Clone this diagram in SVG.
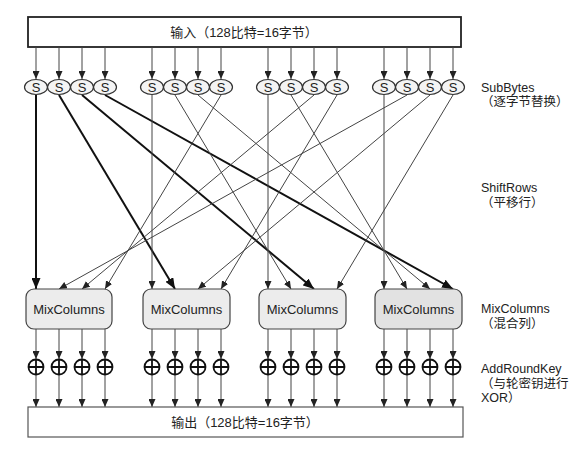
<svg xmlns="http://www.w3.org/2000/svg" width="584" height="451" viewBox="0 0 584 451">
<style>
  .txt { font-family: "Liberation Sans", "Noto Sans CJK SC", sans-serif; font-size: 13px; fill: #222; }
  .lbl { font-family: "Liberation Sans", "Noto Sans CJK SC", sans-serif; font-size: 12.5px; fill: #222; }
  .thin { stroke: #444; stroke-width: 1; fill: none; marker-end: url(#ah); }
  .thick { stroke: #111; stroke-width: 2; fill: none; marker-end: url(#ahb); }
  .sbox { fill: #f4f4f4; stroke: #333; stroke-width: 1.2; }
  .mix { fill: #ececec; stroke: #444; stroke-width: 1.2; }
  .xor { fill: #fff; stroke: #111; stroke-width: 1.8; }
</style>
<defs>
  <marker id="ah" markerUnits="userSpaceOnUse" markerWidth="8" markerHeight="7" refX="8" refY="3.5" orient="auto">
    <path d="M0,0 L8,3.5 L0,7 z" fill="#222"/>
  </marker>
  <marker id="ahb" markerUnits="userSpaceOnUse" markerWidth="11" markerHeight="9" refX="11" refY="4.5" orient="auto">
    <path d="M0,0 L11,4.5 L0,9 z" fill="#111"/>
  </marker>
</defs>
<rect width="584" height="451" fill="#fff"/>

<g id="input">
  <rect x="28" y="17" width="433" height="30" fill="#fff" stroke="#222" stroke-width="1.8"/>
  <text class="txt" x="244" y="37" text-anchor="middle">输入（128比特=16字节）</text>
</g>

<g id="connectors">
  <!-- input to S -->
  <line class="thin" x1="36" y1="47" x2="36" y2="79"/>
  <line class="thin" x1="59" y1="47" x2="59" y2="79"/>
  <line class="thin" x1="82" y1="47" x2="82" y2="79"/>
  <line class="thin" x1="105" y1="47" x2="105" y2="79"/>
  <line class="thin" x1="152" y1="47" x2="152" y2="79"/>
  <line class="thin" x1="175" y1="47" x2="175" y2="79"/>
  <line class="thin" x1="198" y1="47" x2="198" y2="79"/>
  <line class="thin" x1="221" y1="47" x2="221" y2="79"/>
  <line class="thin" x1="268" y1="47" x2="268" y2="79"/>
  <line class="thin" x1="291" y1="47" x2="291" y2="79"/>
  <line class="thin" x1="314" y1="47" x2="314" y2="79"/>
  <line class="thin" x1="337" y1="47" x2="337" y2="79"/>
  <line class="thin" x1="384" y1="47" x2="384" y2="79"/>
  <line class="thin" x1="407" y1="47" x2="407" y2="79"/>
  <line class="thin" x1="430" y1="47" x2="430" y2="79"/>
  <line class="thin" x1="453" y1="47" x2="453" y2="79"/>

  <!-- ShiftRows -->
  <line class="thick" x1="36" y1="95" x2="36" y2="289"/>
  <line class="thick" x1="59" y1="95" x2="175" y2="289"/>
  <line class="thick" x1="82" y1="95" x2="314" y2="289"/>
  <line class="thick" x1="105" y1="95" x2="453" y2="289"/>

  <line class="thin" x1="152" y1="95" x2="152" y2="289"/>
  <line class="thin" x1="175" y1="95" x2="291" y2="289"/>
  <line class="thin" x1="198" y1="95" x2="430" y2="289"/>
  <line class="thin" x1="221" y1="95" x2="105" y2="289"/>

  <line class="thin" x1="268" y1="95" x2="268" y2="289"/>
  <line class="thin" x1="291" y1="95" x2="407" y2="289"/>
  <line class="thin" x1="314" y1="95" x2="82" y2="289"/>
  <line class="thin" x1="337" y1="95" x2="221" y2="289"/>

  <line class="thin" x1="384" y1="95" x2="384" y2="289"/>
  <line class="thin" x1="407" y1="95" x2="59" y2="289"/>
  <line class="thin" x1="430" y1="95" x2="198" y2="289"/>
  <line class="thin" x1="453" y1="95" x2="337" y2="289"/>

  <!-- MixColumns to XOR -->
  <line class="thin" x1="36" y1="329" x2="36" y2="359"/>
  <line class="thin" x1="59" y1="329" x2="59" y2="359"/>
  <line class="thin" x1="82" y1="329" x2="82" y2="359"/>
  <line class="thin" x1="105" y1="329" x2="105" y2="359"/>
  <line class="thin" x1="152" y1="329" x2="152" y2="359"/>
  <line class="thin" x1="175" y1="329" x2="175" y2="359"/>
  <line class="thin" x1="198" y1="329" x2="198" y2="359"/>
  <line class="thin" x1="221" y1="329" x2="221" y2="359"/>
  <line class="thin" x1="268" y1="329" x2="268" y2="359"/>
  <line class="thin" x1="291" y1="329" x2="291" y2="359"/>
  <line class="thin" x1="314" y1="329" x2="314" y2="359"/>
  <line class="thin" x1="337" y1="329" x2="337" y2="359"/>
  <line class="thin" x1="384" y1="329" x2="384" y2="359"/>
  <line class="thin" x1="407" y1="329" x2="407" y2="359"/>
  <line class="thin" x1="430" y1="329" x2="430" y2="359"/>
  <line class="thin" x1="453" y1="329" x2="453" y2="359"/>

  <!-- XOR to output -->
  <line class="thin" x1="36" y1="375" x2="36" y2="407"/>
  <line class="thin" x1="59" y1="375" x2="59" y2="407"/>
  <line class="thin" x1="82" y1="375" x2="82" y2="407"/>
  <line class="thin" x1="105" y1="375" x2="105" y2="407"/>
  <line class="thin" x1="152" y1="375" x2="152" y2="407"/>
  <line class="thin" x1="175" y1="375" x2="175" y2="407"/>
  <line class="thin" x1="198" y1="375" x2="198" y2="407"/>
  <line class="thin" x1="221" y1="375" x2="221" y2="407"/>
  <line class="thin" x1="268" y1="375" x2="268" y2="407"/>
  <line class="thin" x1="291" y1="375" x2="291" y2="407"/>
  <line class="thin" x1="314" y1="375" x2="314" y2="407"/>
  <line class="thin" x1="337" y1="375" x2="337" y2="407"/>
  <line class="thin" x1="384" y1="375" x2="384" y2="407"/>
  <line class="thin" x1="407" y1="375" x2="407" y2="407"/>
  <line class="thin" x1="430" y1="375" x2="430" y2="407"/>
  <line class="thin" x1="453" y1="375" x2="453" y2="407"/>
</g>

<g id="subbytes">
  <g id="s0"><ellipse class="sbox" cx="36" cy="87" rx="11.5" ry="7.5"/><text class="txt" x="36" y="92" text-anchor="middle">S</text></g>
  <g id="s1"><ellipse class="sbox" cx="59" cy="87" rx="11.5" ry="7.5"/><text class="txt" x="59" y="92" text-anchor="middle">S</text></g>
  <g id="s2"><ellipse class="sbox" cx="82" cy="87" rx="11.5" ry="7.5"/><text class="txt" x="82" y="92" text-anchor="middle">S</text></g>
  <g id="s3"><ellipse class="sbox" cx="105" cy="87" rx="11.5" ry="7.5"/><text class="txt" x="105" y="92" text-anchor="middle">S</text></g>
  <g id="s4"><ellipse class="sbox" cx="152" cy="87" rx="11.5" ry="7.5"/><text class="txt" x="152" y="92" text-anchor="middle">S</text></g>
  <g id="s5"><ellipse class="sbox" cx="175" cy="87" rx="11.5" ry="7.5"/><text class="txt" x="175" y="92" text-anchor="middle">S</text></g>
  <g id="s6"><ellipse class="sbox" cx="198" cy="87" rx="11.5" ry="7.5"/><text class="txt" x="198" y="92" text-anchor="middle">S</text></g>
  <g id="s7"><ellipse class="sbox" cx="221" cy="87" rx="11.5" ry="7.5"/><text class="txt" x="221" y="92" text-anchor="middle">S</text></g>
  <g id="s8"><ellipse class="sbox" cx="268" cy="87" rx="11.5" ry="7.5"/><text class="txt" x="268" y="92" text-anchor="middle">S</text></g>
  <g id="s9"><ellipse class="sbox" cx="291" cy="87" rx="11.5" ry="7.5"/><text class="txt" x="291" y="92" text-anchor="middle">S</text></g>
  <g id="s10"><ellipse class="sbox" cx="314" cy="87" rx="11.5" ry="7.5"/><text class="txt" x="314" y="92" text-anchor="middle">S</text></g>
  <g id="s11"><ellipse class="sbox" cx="337" cy="87" rx="11.5" ry="7.5"/><text class="txt" x="337" y="92" text-anchor="middle">S</text></g>
  <g id="s12"><ellipse class="sbox" cx="384" cy="87" rx="11.5" ry="7.5"/><text class="txt" x="384" y="92" text-anchor="middle">S</text></g>
  <g id="s13"><ellipse class="sbox" cx="407" cy="87" rx="11.5" ry="7.5"/><text class="txt" x="407" y="92" text-anchor="middle">S</text></g>
  <g id="s14"><ellipse class="sbox" cx="430" cy="87" rx="11.5" ry="7.5"/><text class="txt" x="430" y="92" text-anchor="middle">S</text></g>
  <g id="s15"><ellipse class="sbox" cx="453" cy="87" rx="11.5" ry="7.5"/><text class="txt" x="453" y="92" text-anchor="middle">S</text></g>
</g>

<g id="mix0"><rect class="mix" x="26" y="289" width="86" height="40" rx="8"/><text class="txt" x="69" y="314" text-anchor="middle">MixColumns</text></g>
<g id="mix1"><rect class="mix" x="143" y="289" width="87" height="40" rx="8"/><text class="txt" x="186.5" y="314" text-anchor="middle">MixColumns</text></g>
<g id="mix2"><rect class="mix" x="259" y="289" width="87" height="40" rx="8"/><text class="txt" x="302.5" y="314" text-anchor="middle">MixColumns</text></g>
<g id="mix3"><rect class="mix" x="375" y="289" width="87" height="40" rx="8" style="fill:#e2e2e2"/><text class="txt" x="418.5" y="314" text-anchor="middle">MixColumns</text></g>

<g id="addroundkey">
  <defs>
    <g id="xorsym"><circle class="xor" cx="0" cy="0" r="7.5"/><path d="M-7.5,0 H7.5 M0,-7.5 V7.5" stroke="#111" stroke-width="1.8"/></g>
  </defs>
  <use href="#xorsym" x="36" y="367"/>
  <use href="#xorsym" x="59" y="367"/>
  <use href="#xorsym" x="82" y="367"/>
  <use href="#xorsym" x="105" y="367"/>
  <use href="#xorsym" x="152" y="367"/>
  <use href="#xorsym" x="175" y="367"/>
  <use href="#xorsym" x="198" y="367"/>
  <use href="#xorsym" x="221" y="367"/>
  <use href="#xorsym" x="268" y="367"/>
  <use href="#xorsym" x="291" y="367"/>
  <use href="#xorsym" x="314" y="367"/>
  <use href="#xorsym" x="337" y="367"/>
  <use href="#xorsym" x="384" y="367"/>
  <use href="#xorsym" x="407" y="367"/>
  <use href="#xorsym" x="430" y="367"/>
  <use href="#xorsym" x="453" y="367"/>
</g>

<g id="output">
  <rect x="28" y="407" width="435" height="30" fill="#fff" stroke="#555" stroke-width="1.2"/>
  <text class="txt" x="245" y="427" text-anchor="middle">输出（128比特=16字节）</text>
</g>

<g id="labels">
  <text class="lbl" x="481" y="92">SubBytes</text>
  <text class="lbl" x="481" y="106">（逐字节替换）</text>
  <text class="lbl" x="481" y="192">ShiftRows</text>
  <text class="lbl" x="481" y="207">（平移行）</text>
  <text class="lbl" x="481" y="313">MixColumns</text>
  <text class="lbl" x="481" y="328">（混合列）</text>
  <text class="lbl" x="481" y="373">AddRoundKey</text>
  <text class="lbl" x="481" y="388">（与轮密钥进行</text>
  <text class="lbl" x="481" y="402">XOR）</text>
</g>
</svg>
